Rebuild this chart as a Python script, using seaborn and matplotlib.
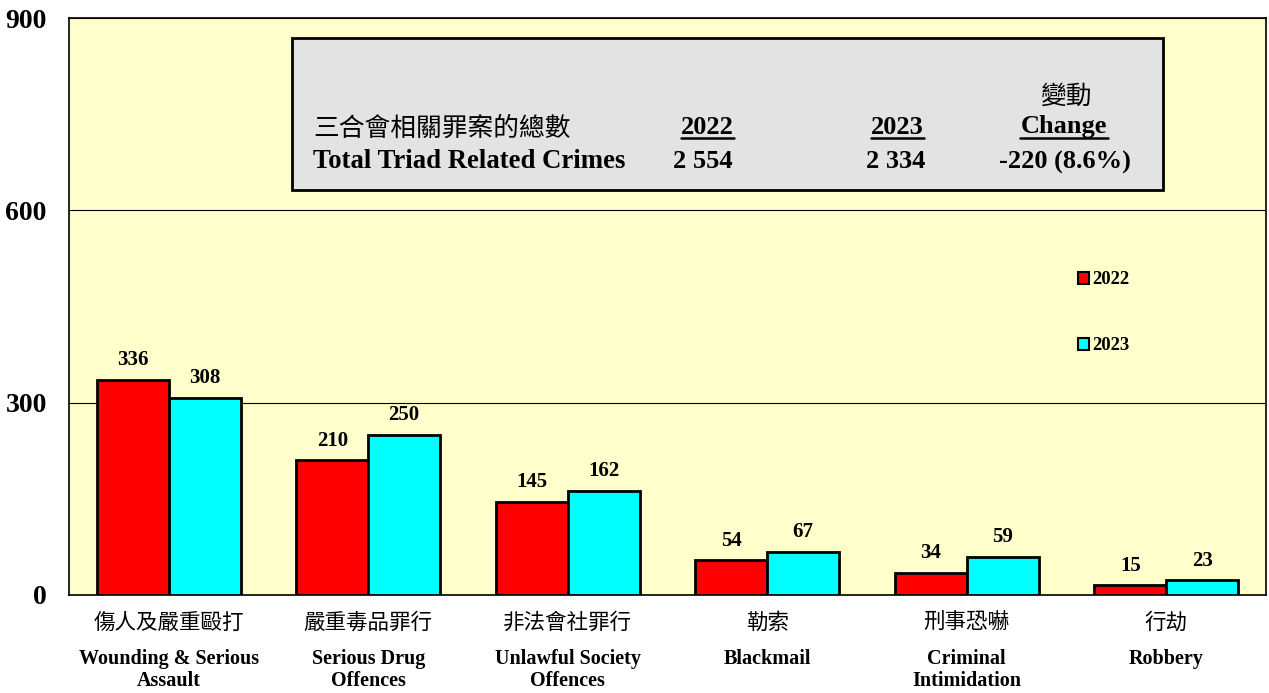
import matplotlib
matplotlib.use('Agg')
import matplotlib.pyplot as plt
from matplotlib.patches import Rectangle
from matplotlib.lines import Line2D
import seaborn as sns
import pandas as pd

# Data
categories_zh = ['傷人及嚴重毆打', '嚴重毒品罪行', '非法會社罪行', '勒索', '刑事恐嚇', '行劫']
categories_en = ['Wounding & Serious\nAssault', 'Serious Drug\nOffences', 'Unlawful Society\nOffences',
                 'Blackmail', 'Criminal\nIntimidation', 'Robbery']
years = ['2022', '2023']
values_2022 = [336, 210, 145, 54, 34, 15]
values_2023 = [308, 250, 162, 67, 59, 23]
y_ticks = [0, 300, 600, 900]

df = pd.DataFrame({
    'category': categories_zh * 2,
    'year': [years[0]] * len(values_2022) + [years[1]] * len(values_2023),
    'count': values_2022 + values_2023,
})

sns.set_style('white')
plt.rcParams['font.family'] = ['Liberation Serif', 'Noto Sans CJK TC']
plt.rcParams['font.weight'] = 'bold'
plt.rcParams['text.color'] = 'black'
plt.rcParams['xtick.color'] = 'black'
plt.rcParams['ytick.color'] = 'black'
plt.rcParams['xtick.labelcolor'] = 'black'
plt.rcParams['ytick.labelcolor'] = 'black'
cjk = ['Noto Sans CJK TC', 'DejaVu Sans']

fig = plt.figure(figsize=(12.69, 6.93), dpi=100)
ax = fig.add_axes([69 / 1269, 1 - 595 / 693, 1197 / 1269, 577 / 693])
ax.set_facecolor('#FFFFCC')

sns.barplot(data=df, x='category', y='count', hue='year', order=categories_zh,
            palette={'2022': '#FF0000', '2023': '#00FFFF'}, saturation=1,
            edgecolor='black', linewidth=2, width=0.72, ax=ax, zorder=3)

ax.set_xlim(-0.5, len(categories_zh) - 0.5)
ax.set_ylim(0, 900)
ax.set_yticks(y_ticks)
ax.set_yticklabels([str(t) for t in y_ticks], fontsize=20, fontweight='bold')
ax.yaxis.grid(True, color='black', linewidth=0.8, zorder=0)
ax.set_axisbelow(True)
ax.set_xlabel('')
ax.set_ylabel('')
ax.tick_params(axis='both', length=0)
ax.tick_params(axis='y', pad=16)
ax.tick_params(axis='x', pad=12)
ax.set_xticks(range(len(categories_zh)))
ax.set_xticklabels(categories_zh, family=cjk, fontweight='normal', fontsize=15.5)
for s in ax.spines.values():
    s.set_color('black')
    s.set_linewidth(1.2)

# English category names under the Chinese ones
for i, name in enumerate(categories_en):
    ax.text(i, -0.094, name, transform=ax.get_xaxis_transform(), ha='center', va='top',
            fontsize=14.5, fontweight='bold', linespacing=1.15)

# value labels
for cont in ax.containers:
    ax.bar_label(cont, padding=7, fontsize=15, fontweight='bold')

# legend
leg = ax.legend(loc='upper left', bbox_to_anchor=(1001 / 1197, (595 - 264) / 577), frameon=False,
                fontsize=13.5, handlelength=0.6, handleheight=0.6, handletextpad=0.2,
                labelspacing=2.6, borderaxespad=0)
for h in leg.legend_handles:
    h.set_edgecolor('black')
    h.set_linewidth(1.5)
for t in leg.get_texts():
    t.set_fontweight('bold')

# summary box
W, H = 1269, 693
def fx(px):
    return px / W
def fy(py):
    return 1 - py / H

fig.patches.append(Rectangle((fx(292), fy(190)), fx(1163) - fx(292), fy(38) - fy(190),
                             transform=fig.transFigure, facecolor='#E3E3E3', edgecolor='black',
                             linewidth=2, zorder=5))
fig.text(fx(313), fy(129), '三合會相關罪案的總數', family=cjk, fontweight='normal', fontsize=18.5,
         va='center', ha='left', zorder=6)
fig.text(fx(313), fy(162), 'Total Triad Related Crimes', fontsize=19.3, fontweight='bold',
         va='center', ha='left', zorder=6)
fig.text(fx(1066), fy(97), '變動', family=cjk, fontweight='normal', fontsize=18.5,
         va='center', ha='center', zorder=6)
header = [('2022', 707), ('2023', 897), ('Change', 1064)]
for txt, cx in header:
    fig.text(fx(cx), fy(127), txt, fontsize=19, fontweight='bold', va='center', ha='center', zorder=6)
underline = [(681, 734), (871, 924), (1020, 1108)]
for x0, x1 in underline:
    fig.add_artist(Line2D([fx(x0), fx(x1)], [fy(138), fy(138)], color='black', linewidth=1.8,
                          transform=fig.transFigure, zorder=6))
totals = [('2 554', 703), ('2 334', 896), ('-220 (8.6%)', 1065)]
for txt, cx in totals:
    fig.text(fx(cx), fy(162), txt, fontsize=19, fontweight='bold', va='center', ha='center', zorder=6)

fig.savefig('out.png', dpi=100, facecolor='white')
